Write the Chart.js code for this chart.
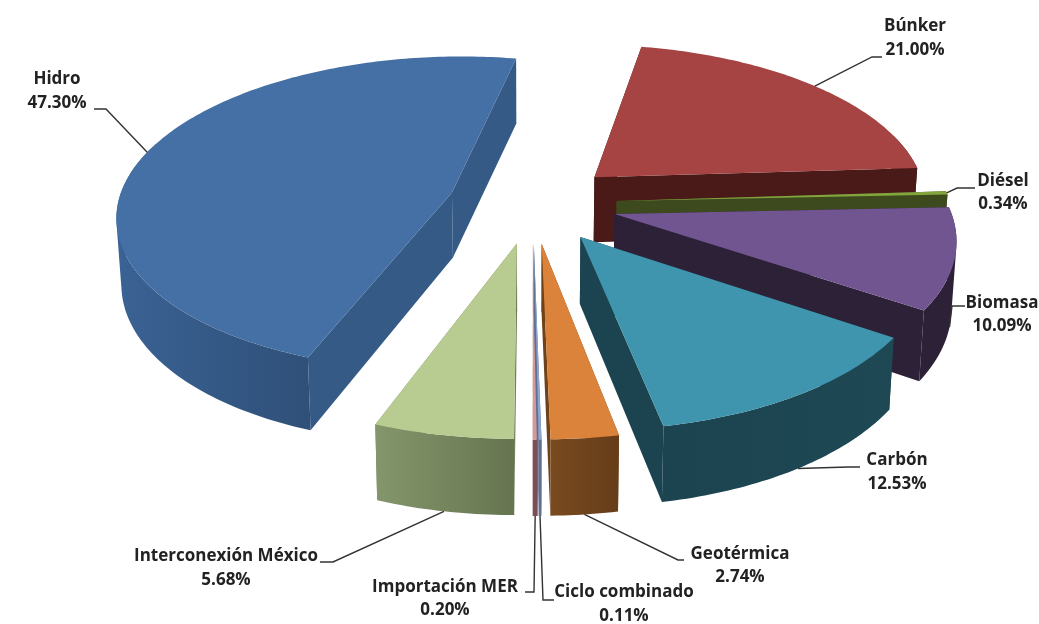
<!DOCTYPE html>
<html>
<head>
<meta charset="utf-8">
<title>Generación por fuente</title>
<script src="https://cdn.jsdelivr.net/npm/chart.js@4"></script>
<style>
  html, body { margin: 0; padding: 0; background: #fff; }
  canvas { display: block; }
</style>
</head>
<body>
<canvas id="pie3d" width="1039" height="624"></canvas>
<script>
// Shares by source, clockwise from the first slice
const labels = ['Búnker', 'Diésel', 'Biomasa', 'Carbón', 'Geotérmica', 'Ciclo combinado', 'Importación MER', 'Interconexión México', 'Hidro']
const shares = [21.0, 0.34, 10.09, 12.53, 2.74, 0.11, 0.2, 5.68, 47.3]

// Slice colours
const topColors = ['#a54442', '#84a43e', '#715590', '#4095ae', '#dc833b', '#8da6d0', '#d29a9a', '#b8cb91', '#4570a5']
const cutColors = ['#4a1a18', '#3d4a1e', '#2d2138', '#1c4450', '#6e4319', '#5f6f90', '#7a4f55', '#6f7f58', '#345a85']
const wallLeft = ['#4a1a18', '#3d4a1e', '#2d2138', '#1b4450', '#7a4a20', '#5f6f90', '#7a4f55', '#84966c', '#3a6294']
const wallRight = ['#4a1a18', '#3d4a1e', '#2d2138', '#1f4855', '#653d18', '#5f6f90', '#7a4f55', '#66754f', '#2f5078']

// Back slices are painted first
const paintOrder = [0, 1, 2, 3, 8, 7, 6, 5, 4]

// Text centres and leader elbows per slice: [x, firstLineY, secondLineY], then the leader from label to elbow
const labelBoxes = [[915, 26, 50], [1003, 181, 204], [1002, 303, 326], [897, 460, 484], [740, 554, 577], [624, 592, 616], [445, 587, 610], [226, 556, 580], [57, 79, 103]]
const leaderEnds = [
  [[882, 57], [872, 57]],
  [[975, 188], [957, 188]],
  [[965, 306], [952, 306]],
  [[860, 467], [848, 467]],
  [[684, 560], [678, 560]],
  [[554, 600], [543, 600]],
  [[525, 592], [534, 592]],
  [[320, 562], [333, 562]],
  [[94, 109], [106, 109]]
]

// Projection of the pie plane onto the screen
const view = { x: 532.5, y: 203, radius: 334, tilt: 0.47, perspective: 0.135, depth: 65, depthGrowth: 0.14, inset: 0.012 }

function project(px, py, h) {
  const f = 1 / (1 - view.perspective * py)
  const depth = view.depth * (1 + view.depthGrowth * Math.max(py, 0))
  const squeeze = 1 - view.inset * h
  return {
    x: view.x + view.radius * px * f * squeeze,
    y: view.y + view.radius * view.tilt * py * f + depth * h
  }
}

// Geometry of an arc element in units of its own radius
function sliceFrame(arc) {
  const p = arc.getProps(['startAngle', 'endAngle', 'outerRadius'], true)
  const mid = (p.startAngle + p.endAngle) / 2
  const shift = arc.options.offset / p.outerRadius
  return { start: p.startAngle, end: p.endAngle, mid, cx: Math.cos(mid) * shift, cy: Math.sin(mid) * shift }
}

function rim(frame, angle, h) {
  return project(frame.cx + Math.cos(angle), frame.cy + Math.sin(angle), h)
}

function addPolygon(ctx, points) {
  points.forEach((pt, i) => (i ? ctx.lineTo(pt.x, pt.y) : ctx.moveTo(pt.x, pt.y)))
  ctx.closePath()
}

function signedArea(points) {
  return points.reduce((sum, pt, i) => {
    const next = points[(i + 1) % points.length]
    return sum + pt.x * next.y - next.x * pt.y
  }, 0)
}

function drawCut(ctx, frame, angle, color) {
  const apexTop = project(frame.cx, frame.cy, 0)
  const apexBottom = project(frame.cx, frame.cy, 1)
  ctx.beginPath()
  addPolygon(ctx, [apexTop, rim(frame, angle, 0), rim(frame, angle, 1), apexBottom])
  ctx.fillStyle = color
  ctx.fill()
}

function drawWall(ctx, frame, i) {
  const upper = []
  const lower = []
  const steps = Math.max(4, Math.ceil((frame.end - frame.start) * 60))
  for (let s = 0; s <= steps; s++) {
    const a = frame.start + ((frame.end - frame.start) * s) / steps
    // the rear of the rim stays hidden, a little past the sides shows because of the perspective
    if (Math.sin(a) < -0.3) continue
    upper.push(rim(frame, a, 0))
    lower.push(rim(frame, a, 1))
  }
  if (upper.length < 2) return
  const xs = upper.concat(lower).map((pt) => pt.x)
  const grad = ctx.createLinearGradient(Math.min(...xs), 0, Math.max(...xs), 0)
  grad.addColorStop(0, wallLeft[i])
  grad.addColorStop(1, wallRight[i])
  // quads share one path with the same winding, the strip folds over itself at the sides
  ctx.beginPath()
  for (let s = 0; s < upper.length - 1; s++) {
    const quad = [upper[s], upper[s + 1], lower[s + 1], lower[s]]
    addPolygon(ctx, signedArea(quad) < 0 ? quad.reverse() : quad)
  }
  ctx.fillStyle = grad
  ctx.fill()
}

function drawTop(ctx, frame, i) {
  const points = [project(frame.cx, frame.cy, 0)]
  const steps = Math.max(4, Math.ceil((frame.end - frame.start) * 60))
  for (let s = 0; s <= steps; s++) {
    points.push(rim(frame, frame.start + ((frame.end - frame.start) * s) / steps, 0))
  }
  ctx.beginPath()
  addPolygon(ctx, points)
  ctx.fillStyle = topColors[i]
  ctx.fill()
}

function drawLabel(ctx, frame, i) {
  // leader leaves the slice at its mid angle
  const anchor = rim(frame, frame.mid, Math.sin(frame.mid) > 0 ? 1 : 0)
  const [from, elbow] = leaderEnds[i]
  ctx.beginPath()
  ctx.moveTo(from[0], from[1])
  ctx.lineTo(elbow[0], elbow[1])
  ctx.lineTo(anchor.x, anchor.y)
  ctx.strokeStyle = '#333'
  ctx.lineWidth = 1.4
  ctx.stroke()

  const [x, y1, y2] = labelBoxes[i]
  ctx.fillStyle = '#222'
  ctx.font = 'bold 17px "Open Sans"'
  ctx.textAlign = 'center'
  ctx.textBaseline = 'middle'
  ctx.fillText(labels[i], x, y1)
  ctx.fillText(shares[i].toFixed(2) + '%', x, y2)
}

const pie3dPlugin = {
  id: 'pie3d',
  beforeDatasetsDraw(chart) {
    const ctx = chart.ctx
    const arcs = chart.getDatasetMeta(0).data
    ctx.save()
    paintOrder.forEach((i) => {
      const frame = sliceFrame(arcs[i])
      drawCut(ctx, frame, frame.start, cutColors[i])
      drawCut(ctx, frame, frame.end, cutColors[i])
      drawWall(ctx, frame, i)
      drawTop(ctx, frame, i)
    })
    paintOrder.forEach((i) => drawLabel(ctx, sliceFrame(arcs[i]), i))
    ctx.restore()
    // slices are fully painted above
    return false
  }
}

new Chart(document.getElementById('pie3d'), {
  type: 'pie',
  data: {
    labels: labels,
    datasets: [{ data: shares, backgroundColor: topColors, borderWidth: 0, offset: 70 }]
  },
  options: {
    responsive: false,
    animation: false,
    rotation: 10.8,
    plugins: { legend: { display: false }, tooltip: { enabled: false } }
  },
  plugins: [pie3dPlugin]
})
</script>
</body>
</html>
